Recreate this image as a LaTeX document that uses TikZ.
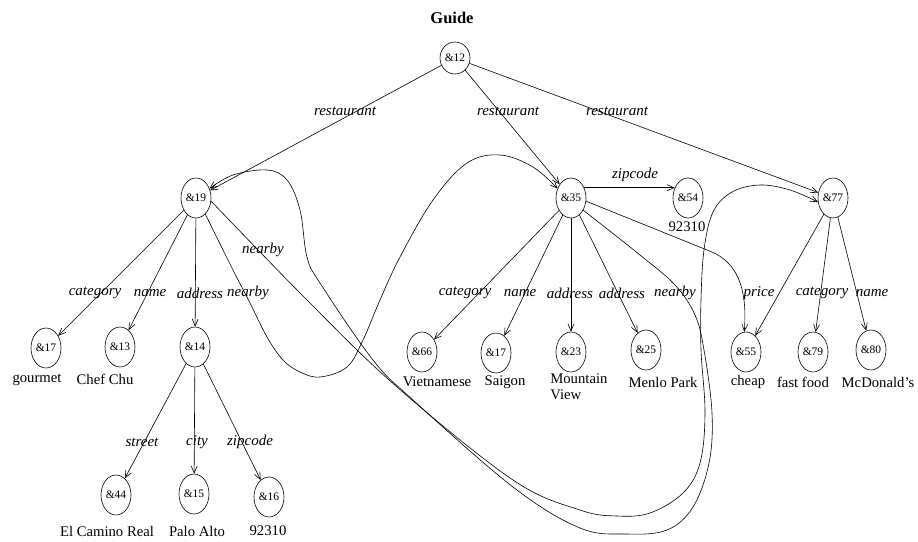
\documentclass[tikz,border=0pt]{standalone}
\usepackage{fontspec}
\setmainfont{Liberation Serif}
\usetikzlibrary{shapes.geometric,arrows.meta}

\begin{document}
\begin{tikzpicture}[x=1pt,y=-1pt,line width=0.6pt,
        obj/.style={draw,ellipse,minimum width=30pt,minimum height=40pt,inner sep=0pt,
                    font=\fontsize{11.5}{12}\selectfont},
        lab/.style={inner sep=0pt,font=\fontsize{15}{16}\selectfont\itshape},
        val/.style={inner sep=0pt,font=\fontsize{14.7}{16}\selectfont},
        edge/.style={-{Straight Barb[length=7pt,width=6pt]}}]
            \useasboundingbox (0,0) rectangle (918,541);
            % objects
            \node[inner sep=0pt,font=\fontsize{16.5}{18}\selectfont\bfseries] (guide) at (452,18) {Guide};
            \node[obj,minimum height=32pt] (n12) at (455,58) {\&12};
            \node[obj] (n19) at (196,198) {\&19};
            \node[obj] (n35) at (571,198) {\&35};
            \node[obj] (n54) at (688,198) {\&54};
            \node[obj] (n77) at (833,198) {\&77};
            \node[obj] (n17) at (46,348) {\&17};
            \node[obj] (n13) at (120,347) {\&13};
            \node[obj] (n14) at (195,347) {\&14};
            \node[obj] (n44) at (116,495) {\&44};
            \node[obj] (n15) at (194,494) {\&15};
            \node[obj] (n16) at (269,497) {\&16};
            \node[obj] (n66) at (422,352) {\&66};
            \node[obj] (n17s) at (496,353) {\&17};
            \node[obj] (n23) at (571,352) {\&23};
            \node[obj] (n25) at (646,350) {\&25};
            \node[obj] (n55) at (746,352) {\&55};
            \node[obj] (n79) at (813,352) {\&79};
            \node[obj] (n80) at (871,350) {\&80};
            % atomic values
            \node[val] (v54) at (687,227) {92310};
            \node[val] (v17) at (37,380) {gourmet};
            \node[val] (v13) at (105,379) {Chef Chu};
            \node[val] (v44) at (107,531) {El Camino Real};
            \node[val] (v15) at (197,531) {Palo Alto};
            \node[val] (v16) at (268,531) {92310};
            \node[val] (v66) at (437,382) {Vietnamese};
            \node[val] (v17s) at (505,382) {Saigon};
            \node[val,align=left,anchor=north west] (v23) at (550,373) {Mountain\\View};
            \node[val] (v25) at (663,382) {Menlo Park};
            \node[val] (v55) at (748,382) {cheap};
            \node[val] (v79) at (803,382) {fast food};
            \node[val] (v80) at (878,382) {McDonald's};
            % edge labels
            \node[lab] (lr1) at (345,111) {restaurant};
            \node[lab] (lr2) at (508,111) {restaurant};
            \node[lab] (lr3) at (617,111) {restaurant};
            \node[lab] (lzip1) at (635,175) {zipcode};
            \node[lab] (lnb1) at (263,250) {nearby};
            \node[lab] (lcat1) at (95,293) {category};
            \node[lab] (lname1) at (150,293) {name};
            \node[lab] (ladd1) at (200,293) {address};
            \node[lab] (lnb2) at (248,293) {nearby};
            \node[lab] (lstr) at (142,442) {street};
            \node[lab] (lcity) at (197,442) {city};
            \node[lab] (lzip2) at (250,442) {zipcode};
            \node[lab] (lcat2) at (465,293) {category};
            \node[lab] (lname2) at (520,293) {name};
            \node[lab] (ladd2) at (570,293) {address};
            \node[lab] (ladd3) at (622,293) {address};
            \node[lab] (lnb3) at (675,293) {nearby};
            \node[lab] (lprice) at (759,293) {price};
            \node[lab] (lcat3) at (822,293) {category};
            \node[lab] (lname3) at (872,293) {name};
            % edges
            \draw[edge] (n12) -- (n19);
            \draw[edge] (n12) -- (n35);
            \draw[edge] (n12) -- (n77);
            \foreach \t in {n17,n13,n14} \draw[edge] (n19) -- (\t);
            \foreach \t in {n44,n15,n16} \draw[edge] (n14) -- (\t);
            \foreach \t in {n66,n17s,n23,n25} \draw[edge] (n35) -- (\t);
            \foreach \t in {n55,n79,n80} \draw[edge] (n77) -- (\t);
            \draw[edge] (n35.38) -- (n54.142);
            \draw[edge] (n35.-12) -- (712,252) .. controls (735,262) and (748,285) .. (n55.95);
            % nearby edges
            \draw[edge] plot[smooth,tension=0.6] coordinates {(n19.-60) (233,270) (250,303) (267,337)
                (283,360) (300,372) (320,377) (347,367) (363,340) (380,300) (400,257) (433,200)
                (467,163) (500,155) (533,167) (n35.145)};
            \draw[edge] plot[smooth,tension=0.6] coordinates {(n35.-45) (640,255) (675,285) (695,315)
                (704,350) (712,413) (709,463) (693,507) (667,530) (627,534) (580,528) (513,487)
                (413,400) (373,360) (320,283) (307,257) (300,210) (287,180) (267,170) (233,175) (n19.35)};
            \draw[edge] plot[smooth,tension=0.6] coordinates {(n19.-12) (307,300) (397,387) (513,480)
                (580,510) (617,516) (650,513) (683,493) (700,463) (705,413) (701,350) (701,300)
                (704,250) (713,212) (732,192) (760,185) (790,190) (n77.195)};
\end{tikzpicture}
\end{document}
